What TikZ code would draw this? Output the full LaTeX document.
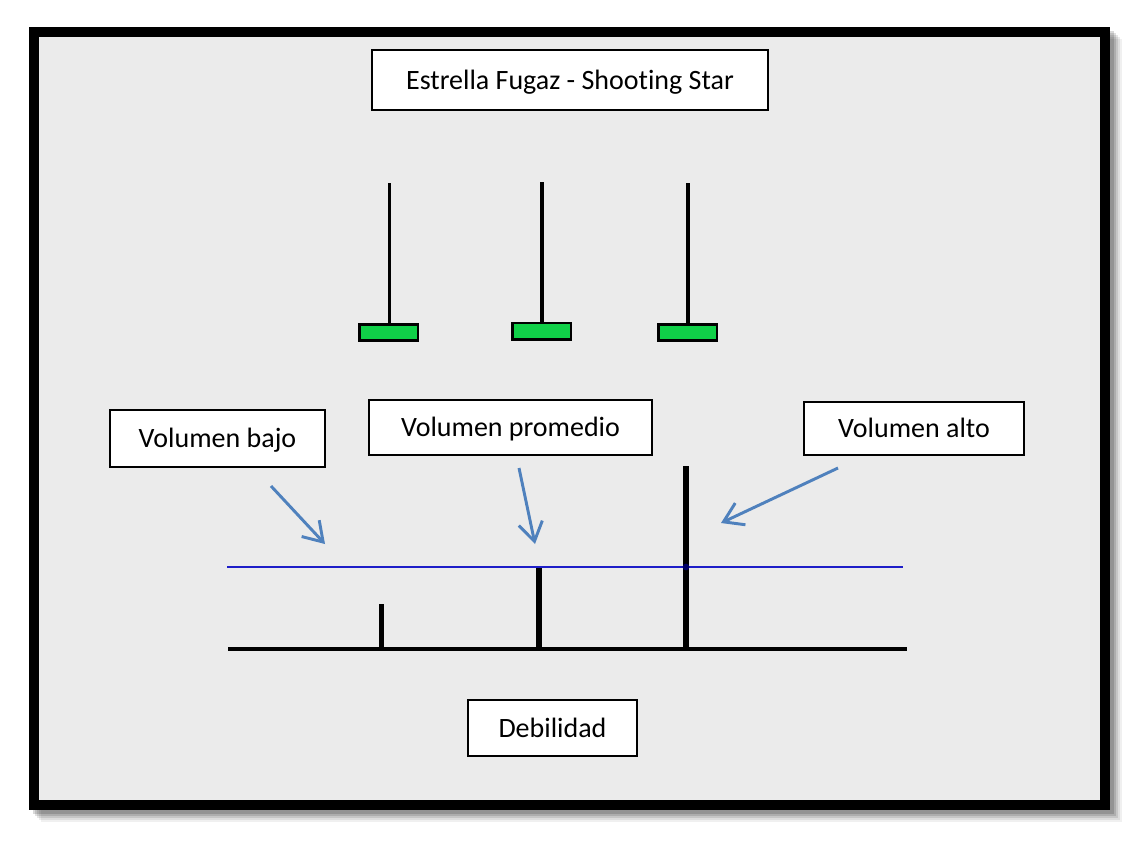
\documentclass[tikz,border=0pt]{standalone}
\usepackage{fontspec}
\setmainfont{Carlito}[Ligatures={NoCommon}]
\usetikzlibrary{arrows.meta}
\definecolor{bgray}{HTML}{EBEBEB}
\definecolor{cgreen}{RGB}{16,208,72}
\definecolor{arrblue}{RGB}{79,129,189}
\definecolor{lineblue}{RGB}{30,30,200}
\tikzset{
  lbl/.style={draw=black, line width=1.1pt, fill=white, inner sep=0pt, text height=17pt, text depth=3pt, font=\fontsize{21pt}{24pt}\selectfont},
  wick/.style={draw=black, line width=2.4pt},
  body/.style={draw=black, line width=1.6pt, fill=cgreen},
  volbar/.style={draw=black, line width=3.8pt},
  pointer/.style={draw=arrblue, line width=2.2pt, -{Straight Barb[length=14pt, width=18pt, line width=2.2pt]}},
}
\begin{document}
\begin{tikzpicture}[x=0.75pt, y=-0.75pt]
\useasboundingbox (0,0) rectangle (1139,840);
\fill[white] (0,0) rectangle (1139,840);
% shadow
\foreach \o/\a in {12/0.06, 10/0.08, 8/0.10, 6/0.12, 4/0.15}{
  \fill[black, opacity=\a] (29+\o,27+\o) rectangle (1110+\o,810+\o);
}
% frame
\draw[line width=7.5pt, fill=bgray] (34,32) rectangle (1105,805);
% title
\node[lbl, minimum width=297pt, minimum height=45pt] (title) at (570,80) {Estrella Fugaz - Shooting Star};
% candles
\foreach \n/\x/\t/\b in {1/389.5/183/324, 2/542/182/323, 3/688/183/324}{
  \coordinate (w\n top) at (\x,\t);
  \coordinate (w\n bot) at (\x,\b);
  \draw[wick] (w\n top) -- (w\n bot);
}
\draw[body] (359.5,324.5) rectangle (418,340.5);
\draw[body] (512.5,323) rectangle (571,339.5);
\draw[body] (658.5,324.5) rectangle (717,340.5);
% labels
\node[lbl, minimum width=161.25pt, minimum height=42.75pt] (bajo) at (217.5,438.5) {Volumen bajo};
\node[lbl, minimum width=212.25pt, minimum height=41.25pt] (prom) at (510.5,427.5) {Volumen promedio};
\node[lbl, minimum width=165pt, minimum height=39.75pt] (alto) at (914,428.5) {Volumen alto};
\node[lbl, minimum width=126.75pt, minimum height=42pt] (deb) at (552.5,728) {Debilidad};
% volume axis
\coordinate (axL) at (228,649);
\coordinate (axR) at (907,649);
\coordinate (avL) at (227,567);
\coordinate (avR) at (903,567);
\draw[black, line width=3pt] (axL) -- (axR);
\coordinate (v1t) at (381.5,604); \coordinate (v1b) at (381.5,649);
\coordinate (v2t) at (539,567); \coordinate (v2b) at (539,649);
\coordinate (v3t) at (686,466); \coordinate (v3b) at (686,649);
\draw[volbar] (v1t) -- (v1b);
\draw[volbar] (v2t) -- (v2b);
\draw[volbar] (v3t) -- (v3b);
\draw[lineblue, line width=1.5pt] (avL) -- (avR);
\fill[black!60!blue] (686,567) circle (2.5pt);
% pointers
\coordinate (p1s) at (271,486); \coordinate (p1e) at (325,544);
\coordinate (p2s) at (519,468); \coordinate (p2e) at (535,544);
\coordinate (p3s) at (838,468); \coordinate (p3e) at (721,523);
\draw[pointer] (p1s) -- (p1e);
\draw[pointer] (p2s) -- (p2e);
\draw[pointer] (p3s) -- (p3e);
\end{tikzpicture}
\end{document}
